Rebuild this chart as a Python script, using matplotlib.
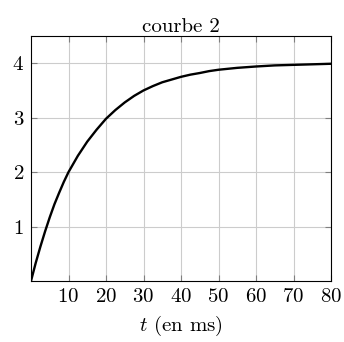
import matplotlib.pyplot as plt

plt.rcParams['font.family'] = 'serif'
plt.rcParams['font.serif'] = ['cmr10']
plt.rcParams['mathtext.fontset'] = 'cm'
plt.rcParams['axes.formatter.use_mathtext'] = True

# tension (V), time in ms
t_ms = [0, 1.25, 2.5, 3.75, 5, 6.25, 7.5, 8.75, 10, 12.5, 15, 17.5, 20,
        22.5, 25, 27.5, 30, 32.5, 35, 37.5, 40, 42.5, 45, 47.5, 50, 55,
        60, 65, 70, 75, 80]
u_vals = [0, 0.33, 0.63, 0.91, 1.17, 1.41, 1.62, 1.82, 2.0, 2.3, 2.56,
          2.78, 2.98, 3.14, 3.28, 3.4, 3.5, 3.58, 3.65, 3.7, 3.75, 3.79,
          3.82, 3.855, 3.88, 3.915, 3.94, 3.96, 3.97, 3.98, 3.99]

x_ticks = [10, 20, 30, 40, 50, 60, 70, 80]
y_ticks = [1, 2, 3, 4]

fig = plt.figure(figsize=(3.44, 3.42), dpi=100)
ax = fig.add_axes([31 / 344, 1 - 281 / 342, 300 / 344, 245 / 342])

ax.plot(t_ms, u_vals, color='black', lw=1.7, solid_capstyle='round',
        solid_joinstyle='round')

ax.set_xlim(0, 80)
ax.set_ylim(0, 4.5)
ax.set_xticks(x_ticks)
ax.set_yticks(y_ticks)
ax.grid(True, color='#cccccc', lw=0.8)
ax.set_axisbelow(True)
ax.tick_params(direction='in', length=4, width=0.8, color='#7f7f7f',
               top=True, right=True, labelsize=15, pad=5)
for s in ax.spines.values():
    s.set_linewidth(0.8)

ax.set_title('courbe 2', fontsize=15, pad=3)
ax.set_xlabel(r'$t$ (en ms)', fontsize=15, labelpad=6)

fig.savefig('out.png', dpi=100)
